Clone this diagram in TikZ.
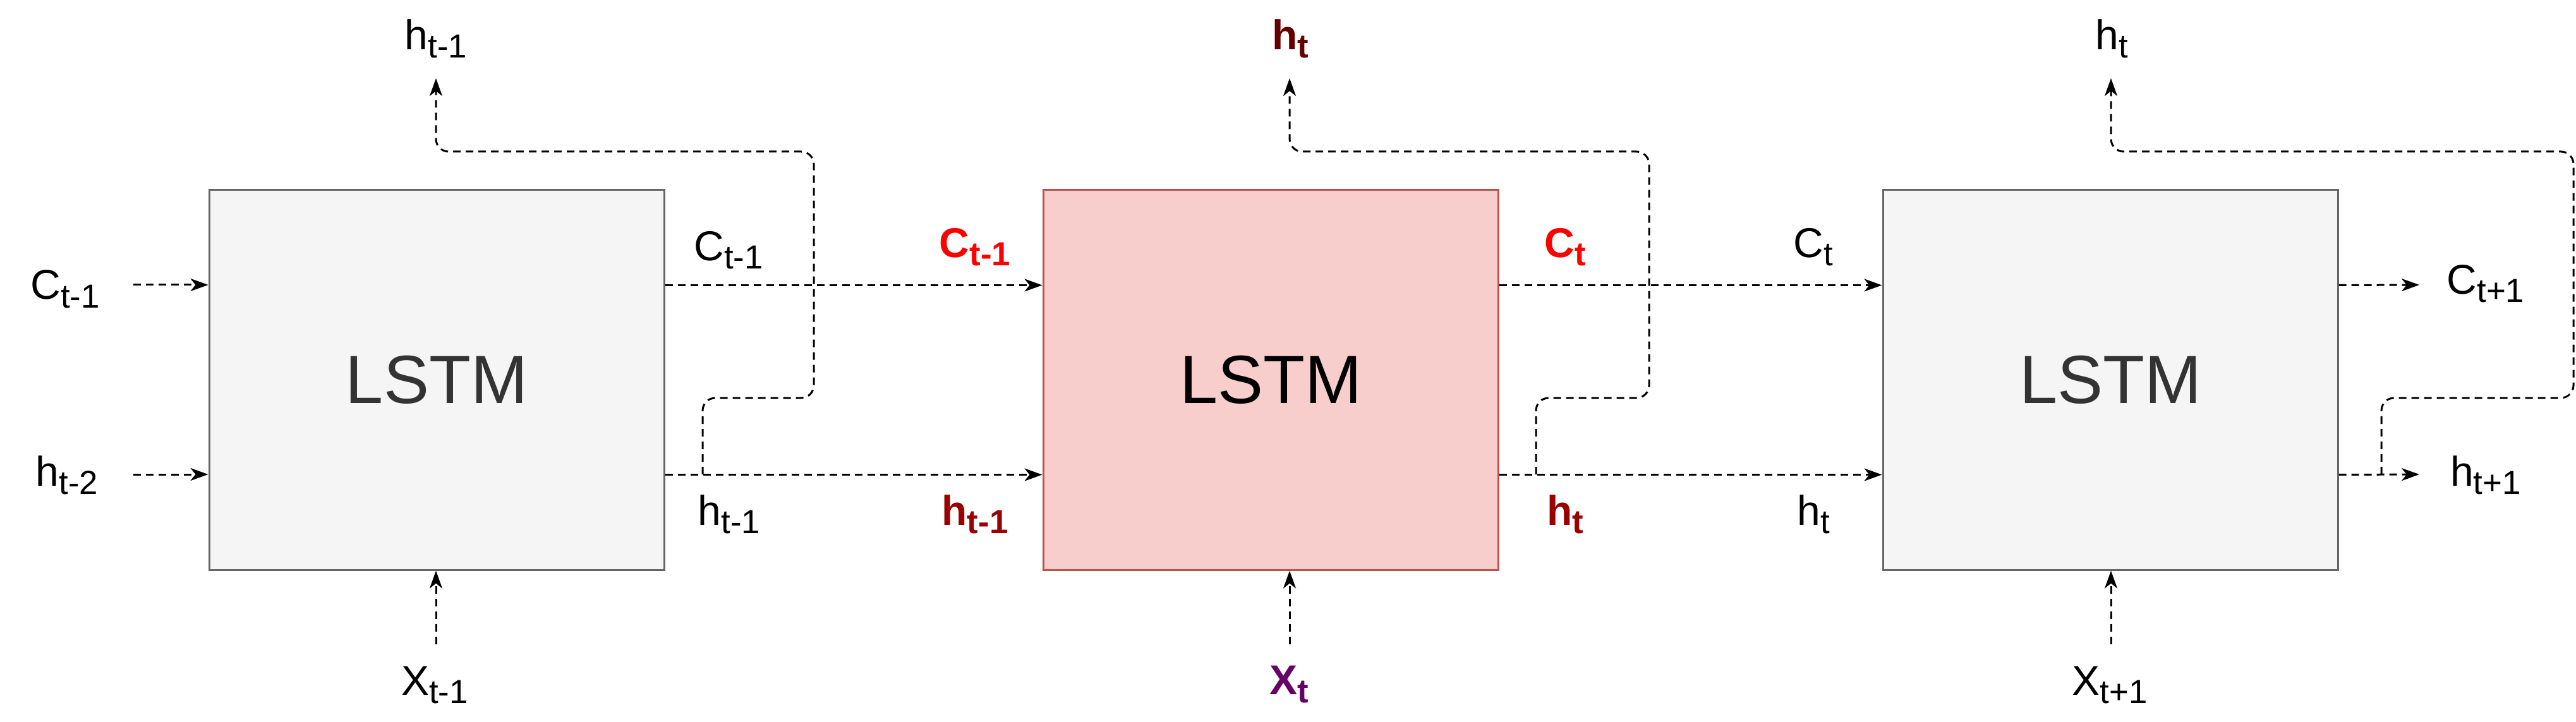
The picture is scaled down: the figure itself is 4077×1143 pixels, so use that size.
\documentclass[tikz,border=0pt]{standalone}
\usepackage{fontspec}
\setmainfont{Liberation Sans}
\usetikzlibrary{arrows.meta,calc}
\definecolor{boxgray}{HTML}{F5F5F5}
\definecolor{edgegray}{HTML}{666666}
\definecolor{txtgray}{HTML}{333333}
\definecolor{boxred}{HTML}{F8CECC}
\definecolor{edgered}{HTML}{B85450}
\definecolor{cred}{HTML}{FF0000}
\definecolor{hred}{HTML}{990000}
\definecolor{htop}{HTML}{660000}
\definecolor{xpurp}{HTML}{660066}
\newcommand{\lab}[2]{#1\raisebox{-3.25pt}{\fontsize{13.2}{14}\selectfont #2}}
\tikzset{
  cell/.style={draw=edgegray, fill=boxgray, line width=0.75pt, minimum width=180pt,
    minimum height=150.25pt, inner sep=0pt, font=\fontsize{27}{30}\selectfont, text=txtgray},
  hotcell/.style={cell, draw=edgered, fill=boxred, text=black},
  flow/.style={dash pattern=on 3pt off 2pt, line width=0.75pt,
    -{Stealth[length=7pt,width=5pt,inset=2pt]}},
  loopflow/.style={flow, rounded corners=5pt},
  lbl/.style={anchor=base, font=\fontsize{16.5}{18}\selectfont, inner sep=0pt},
  blbl/.style={lbl, font=\fontsize{16.5}{18}\selectfont\bfseries}
}
\begin{document}
\begin{tikzpicture}[x=0.25pt,y=-0.25pt]
\useasboundingbox (0,0) rectangle (4077,1143);
% boxes
\node[cell] (b1) at (691,601.5) {LSTM};
\node[hotcell] (b2) at (2011,601.5) {LSTM};
\node[cell] (b3) at (3340,601.5) {LSTM};
% free ends
\coordinate (sc) at (211,451);
\coordinate (sh) at (211,751);
\coordinate (ec) at (3829,451);
\coordinate (eh) at (3829,751);
\coordinate (j1) at (1112,751);
\coordinate (j2) at (2431,751);
\coordinate (j3) at (3769,751);
\coordinate (t1) at (690,124);
\coordinate (t2) at (2041,124);
\coordinate (t3) at (3341,124);
\coordinate (x1s) at (690,1020);
\coordinate (x2s) at (2041,1020);
\coordinate (x3s) at (3341,1020);
% labels
\node[lbl] (lc) at (103,474) {\lab{C}{t-1}};
\node[lbl] (lh) at (106,769) {\lab{h}{t-2}};
\node[lbl] (o1c) at (1153,412) {\lab{C}{t-1}};
\node[lbl] (o1h) at (1154,831) {\lab{h}{t-1}};
\node[lbl] (top1) at (690,79) {\lab{h}{t-1}};
\node[lbl] (x1) at (688,1100) {\lab{X}{t-1}};
\node[blbl, text=cred] (i2c) at (1543,408) {\lab{C}{t-1}};
\node[blbl, text=hred] (i2h) at (1543,831) {\lab{h}{t-1}};
\node[blbl, text=cred] (o2c) at (2477,408) {\lab{C}{t}};
\node[blbl, text=hred] (o2h) at (2477,831) {\lab{h}{t}};
\node[blbl, text=htop] (top2) at (2042,79) {\lab{h}{t}};
\node[blbl, text=xpurp] (x2) at (2040,1099) {\lab{X}{t}};
\node[lbl] (i3c) at (2870,408) {\lab{C}{t}};
\node[lbl] (i3h) at (2870,831) {\lab{h}{t}};
\node[lbl] (top3) at (3342,79) {\lab{h}{t}};
\node[lbl] (x3) at (3339,1100) {\lab{X}{t+1}};
\node[lbl] (oc) at (3934,466) {\lab{C}{t+1}};
\node[lbl] (oh) at (3934,769) {\lab{h}{t+1}};
% horizontal flows
\draw[flow] (sc) -- (sc -| b1.west);
\draw[flow] (sh) -- (sh -| b1.west);
\draw[flow] ([yshift=37.5pt]b1.east) -- ([yshift=37.5pt]b2.west);
\draw[flow] ([yshift=-37.5pt]b1.east) -- ([yshift=-37.5pt]b2.west);
\draw[flow] ([yshift=37.5pt]b2.east) -- ([yshift=37.5pt]b3.west);
\draw[flow] ([yshift=-37.5pt]b2.east) -- ([yshift=-37.5pt]b3.west);
\draw[flow] ([yshift=37.5pt]b3.east) -- (ec);
\draw[flow] ([yshift=-37.5pt]b3.east) -- (eh);
% inputs from below
\draw[flow] (x1s) -- (x1s |- b1.south);
\draw[flow] (x2s) -- (x2s |- b2.south);
\draw[flow] (x3s) -- (x3s |- b3.south);
% loops up to h outputs
\draw[loopflow] (j1) -- (1112,630) -- (1288,630) -- (1288,240) -- (690,240) -- (t1);
\draw[loopflow] (j2) -- (2431,630) -- (2610,630) -- (2610,240) -- (2041,240) -- (t2);
\draw[loopflow] (j3) -- (3769,630) -- (4073,630) -- (4073,240) -- (3341,240) -- (t3);
\end{tikzpicture}
\end{document}
